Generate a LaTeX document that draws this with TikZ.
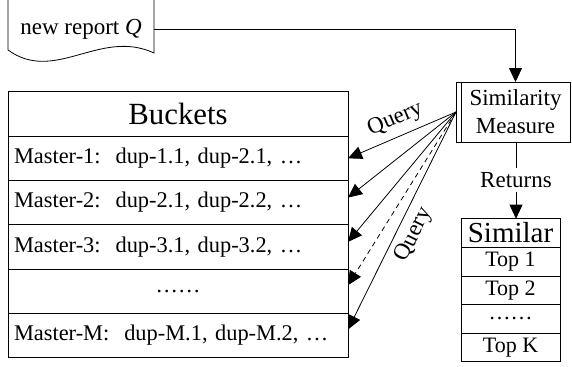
\documentclass[tikz,border=0pt]{standalone}
\usepackage{fontspec}
\setmainfont{Liberation Serif}
\usetikzlibrary{arrows.meta,positioning}

\begin{document}
\begin{tikzpicture}[
    x=0.5pt, y=-0.5pt,
    every node/.style={font=\fontsize{11.5}{14}\selectfont},
    bucketrow/.style={rectangle, draw, outer sep=0pt, inner sep=3pt, text width=164pt, minimum height=22.15pt, align=left, font=\fontsize{11.2}{13}\selectfont},
    bucketdots/.style={bucketrow, align=center},
    buckethead/.style={bucketrow, align=center, font=\fontsize{15.4}{18}\selectfont},
    simrow/.style={rectangle, draw, outer sep=0pt, inner sep=1pt, minimum width=49.5pt, minimum height=14.3pt, font=\fontsize{11}{13}\selectfont},
    simhead/.style={simrow, font=\fontsize{14.5}{16}\selectfont},
    measure/.style={rectangle, draw, outer sep=0pt, minimum width=54.5pt, minimum height=30pt, align=center},
    arrow/.style={-{Triangle[length=7pt,width=6.5pt]}}
]
\useasboundingbox (0,0) rectangle (572,366);

% New report (document shape)
\draw (8,0) -- (8,50) .. controls (55,84) and (100,28) .. (154,53) -- (154,0);
\node[minimum width=73pt, outer sep=0pt] (report) at (81,29) {new report \textit{Q}};

% Buckets table
\node[buckethead] (bhead) at (178,114) {Buckets};
\node[bucketrow, below=0pt of bhead] (row1) {Master-1:\ \ dup-1.1, dup-2.1, …};
\node[bucketrow, below=0pt of row1] (row2) {Master-2:\ \ dup-2.1, dup-2.2, …};
\node[bucketrow, below=0pt of row2] (row3) {Master-3:\ \ dup-3.1, dup-3.2, …};
\node[bucketdots, below=0pt of row3] (rowdots) {……};
\node[bucketrow, below=0pt of rowdots] (rowM) {Master-M:\ \ dup-M.1, dup-M.2, …};

% Similarity measure
\node[measure] (sim) at (515.5,112) {Similarity\\Measure};
\draw ([xshift=-2.5pt]sim.north west) rectangle (sim.south west);
\draw[arrow] (report.east) -| (sim.north);

% Similar table
\node[inner sep=2pt] (ret) at (516,180) {Returns};
\node[simhead] (shead) at (510.5,233) {Similar};
\node[simrow, below=0pt of shead] (top1) {Top 1};
\node[simrow, below=0pt of top1] (top2) {Top 2};
\node[simrow, below=0pt of top2] (topdots) {……};
\node[simrow, below=0pt of topdots] (topK) {Top K};
\draw (sim.south -| ret) -- (ret);
\draw[arrow] (ret.south) -- (ret.south |- shead.north);

% Queries
\coordinate (qsrc) at ([xshift=-2.5pt]sim.west);
\draw[arrow] (qsrc) -- node[pos=0.5, above, sloped] {Query} (row1.east);
\draw[arrow] (qsrc) -- ([yshift=2.5pt]row2.east);
\draw[arrow] (qsrc) -- ([yshift=2.5pt]row3.east);
\draw[arrow, dash pattern=on 2.5pt off 2pt] (qsrc) -- ([yshift=3pt]rowdots.east);
\draw[arrow] (qsrc) -- node[pos=0.53, below, sloped] {Query} ([yshift=3pt]rowM.east);

\end{tikzpicture}
\end{document}
